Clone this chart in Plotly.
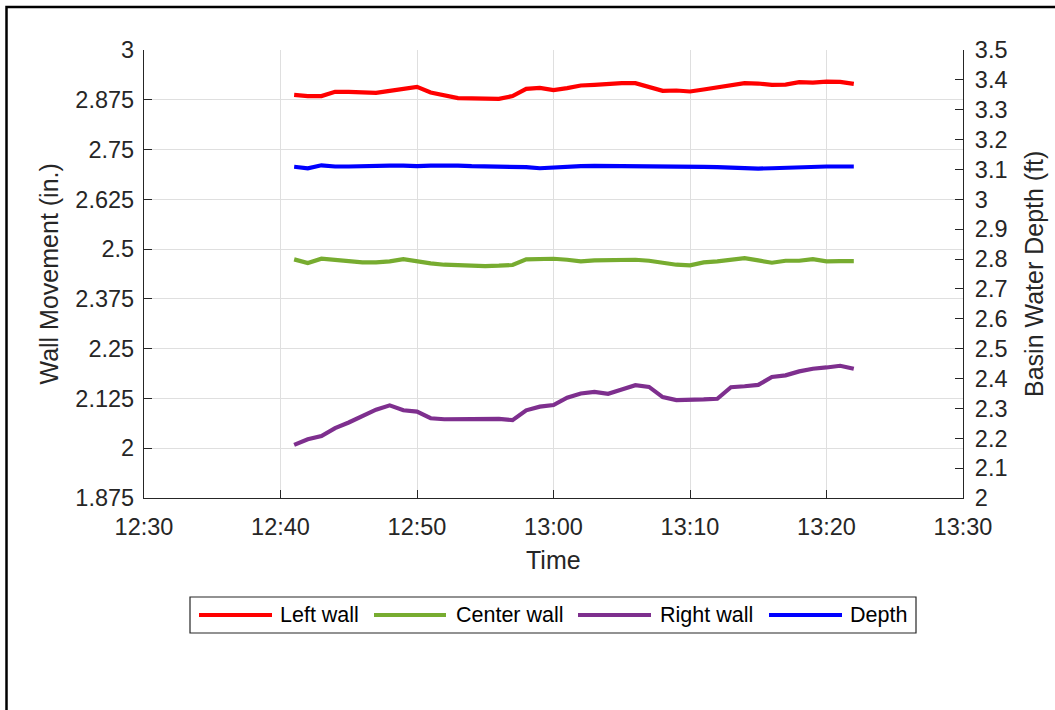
import pandas as pd
import plotly.graph_objects as go

# One reading per minute, 12:41 to 13:22
times = pd.date_range("2020-01-01 12:41", "2020-01-01 13:22", freq="min")

left_wall = [2.8875, 2.8842, 2.8842, 2.895, 2.895, 2.895, 2.8925, 2.8975, 2.9017, 2.9075,
             2.8933, 2.8875, 2.8792, 2.8783, 2.8783, 2.8775, 2.8842, 2.9025, 2.905, 2.8992,
             2.9042, 2.9108, 2.9125, 2.915, 2.9167, 2.9167, 2.9067, 2.8975, 2.8983, 2.8958,
             2.9008, 2.9058, 2.9125, 2.9167, 2.9158, 2.9125, 2.9133, 2.9192, 2.9183, 2.9208,
             2.92, 2.915]

center_wall = [2.4742, 2.465, 2.4758, 2.4725, 2.4692, 2.4667, 2.4667, 2.4692, 2.475, 2.4692,
               2.4642, 2.4608, 2.4592, 2.4575, 2.4575, 2.4583, 2.46, 2.4742, 2.4758, 2.4758,
               2.4733, 2.4692, 2.4717, 2.4725, 2.4733, 2.4733, 2.4708, 2.4658, 2.4608, 2.4592,
               2.4667, 2.4692, 2.4733, 2.4775, 2.4717, 2.4658, 2.4708, 2.4708, 2.475, 2.4692,
               2.47, 2.47]

right_wall = [2.0083, 2.0224, 2.0306, 2.0505, 2.0646, 2.082, 2.0969, 2.1076, 2.0952, 2.0919,
              2.0753, 2.0728, 2.0728, 2.0745, 2.0745, 2.0737, 2.0704, 2.0952, 2.1043, 2.1084,
              2.1267, 2.1374, 2.1416, 2.1366, 2.1474, 2.1581, 2.154, 2.1283, 2.1209, 2.1209,
              2.1225, 2.1242, 2.1531, 2.1556, 2.1589, 2.1788, 2.1829, 2.1929, 2.1995, 2.2028,
              2.207, 2.1995]

depth = [3.109, 3.104, 3.114, 3.110, 3.110, 3.112, 3.112, 3.113, 3.113, 3.111,
         3.113, 3.114, 3.113, 3.111, 3.111, 3.111, 3.111, 3.108, 3.104, 3.107,
         3.109, 3.111, 3.112, 3.112, 3.111, 3.110, 3.110, 3.110, 3.110, 3.110,
         3.109, 3.108, 3.106, 3.103, 3.103, 3.104, 3.106, 3.107, 3.110, 3.110,
         3.110, 3.110]

left_ticks = [1.875, 2, 2.125, 2.25, 2.375, 2.5, 2.625, 2.75, 2.875, 3]
left_tick_text = ["1.875", "2", "2.125", "2.25", "2.375", "2.5", "2.625", "2.75", "2.875", "3"]
right_ticks = [2, 2.1, 2.2, 2.3, 2.4, 2.5, 2.6, 2.7, 2.8, 2.9, 3, 3.1, 3.2, 3.3, 3.4, 3.5]
right_tick_text = ["2", "2.1", "2.2", "2.3", "2.4", "2.5", "2.6", "2.7", "2.8", "2.9",
                   "3", "3.1", "3.2", "3.3", "3.4", "3.5"]

series = [
    ("Left wall", left_wall, "#ff0000", "y"),
    ("Center wall", center_wall, "#77ac30", "y"),
    ("Right wall", right_wall, "#7e2f8e", "y"),
    ("Depth", depth, "#0000ff", "y2"),
]

FONT = "Arial, Liberation Sans, Helvetica, sans-serif"
AX = "#262626"
GRID = "#dfdfdf"
TICK_SIZE = 23.5

fig = go.Figure()
for name, vals, color, yax in series:
    fig.add_trace(go.Scatter(x=times, y=vals, name=name, mode="lines", yaxis=yax,
                             line=dict(color=color, width=4.2), showlegend=False))

fig.update_layout(
    width=1055, height=710,
    margin=dict(l=144, r=92, t=50, b=212),
    paper_bgcolor="white", plot_bgcolor="white",
    font=dict(family=FONT, color=AX, size=22),
    xaxis=dict(
        range=["2020-01-01 12:30", "2020-01-01 13:30"],
        tickformat="%H:%M", dtick=600000, tick0="2020-01-01 12:30",
        showgrid=True, gridcolor=GRID, gridwidth=1,
        showline=True, linecolor=AX, linewidth=1.3,
        ticks="inside", ticklen=8, tickcolor=AX, tickwidth=1.3,
        ticklabelstandoff=8,
        tickfont=dict(size=TICK_SIZE, color=AX), zeroline=False,
    ),
    yaxis=dict(
        range=[1.875, 3], tickmode="array", tickvals=left_ticks, ticktext=left_tick_text,
        showgrid=True, gridcolor=GRID, gridwidth=1,
        showline=True, linecolor=AX, linewidth=1.3,
        ticks="inside", ticklen=8, tickcolor=AX, tickwidth=1.3,
        ticklabelstandoff=4,
        tickfont=dict(size=TICK_SIZE, color=AX), zeroline=False,
    ),
    yaxis2=dict(
        range=[2, 3.5], tickmode="array", tickvals=right_ticks, ticktext=right_tick_text,
        overlaying="y", side="right", showgrid=False,
        showline=True, linecolor=AX, linewidth=1.3,
        ticks="inside", ticklen=8, tickcolor=AX, tickwidth=1.3,
        ticklabelstandoff=6,
        tickfont=dict(size=TICK_SIZE, color=AX), zeroline=False,
    ),
)

# Axis titles
fig.add_annotation(text="Time", xref="paper", yref="paper", x=0.5, y=-0.138,
                   showarrow=False, xanchor="center", yanchor="middle",
                   font=dict(size=25, color=AX, family=FONT))
fig.add_annotation(text="Wall Movement (in.)", xref="paper", yref="paper", x=-0.1166, y=0.5,
                   showarrow=False, textangle=-90, xanchor="center", yanchor="middle",
                   font=dict(size=25, color=AX, family=FONT))
fig.add_annotation(text="Basin Water Depth (ft)", xref="paper", yref="paper", x=1.0867, y=0.5,
                   showarrow=False, textangle=-90, xanchor="center", yanchor="middle",
                   font=dict(size=25, color=AX, family=FONT))

# Legend box below the axes
pw, ph = 819.0, 448.0


def px_x(px):
    return (px - 144) / pw


def px_y(py):
    return (498 - py) / ph


fig.add_shape(type="rect", xref="paper", yref="paper",
              x0=px_x(190), x1=px_x(916), y0=px_y(597), y1=px_y(633),
              line=dict(color="#262626", width=1.2), fillcolor="white")
legend_pos = [(199, 272, 278), (374, 446, 454), (578, 651, 658), (769, 842, 848)]
for (name, _, color, _), (l0, l1, tx) in zip(series, legend_pos):
    fig.add_shape(type="line", xref="paper", yref="paper",
                  x0=px_x(l0), x1=px_x(l1), y0=px_y(615), y1=px_y(615),
                  line=dict(color=color, width=4))
    fig.add_annotation(text=name, xref="paper", yref="paper", x=px_x(tx), y=px_y(615),
                       showarrow=False, xanchor="left", yanchor="middle",
                       font=dict(size=21.5, color="#000000", family=FONT))

# Outer figure frame
fig.add_shape(type="rect", xref="paper", yref="paper",
              x0=px_x(6.5), x1=px_x(1080), y0=px_y(760), y1=px_y(7),
              line=dict(color="black", width=2.5), fillcolor="rgba(0,0,0,0)", layer="above")

fig.write_html("out.html")
